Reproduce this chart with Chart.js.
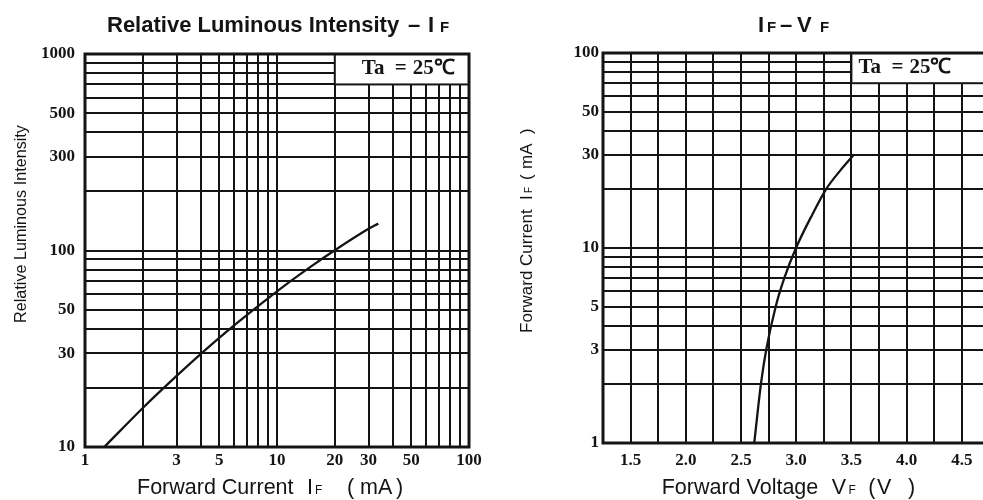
<!DOCTYPE html>
<html><head><meta charset="utf-8">
<script src="https://cdn.jsdelivr.net/npm/chart.js@4/dist/chart.umd.min.js"></script>
<style>
html,body{margin:0;padding:0;background:#fff;overflow:hidden;width:983px;height:500px;}
#c1{position:absolute;left:0;top:0;}
#c2{position:absolute;left:490px;top:0;}
</style></head><body>
<canvas id="c1" width="490" height="500"></canvas>
<canvas id="c2" width="560" height="500"></canvas>
<script>
// ---------- data ----------
const lumCurrent   = [1.26, 2, 3, 4, 6, 10, 15, 20, 30, 33.7];           // IF (mA)
const lumIntensity = [10, 15.8, 23.0, 29.7, 41.7, 62.0, 82.8, 100.3, 129, 137]; // relative
const ivCurrent = [1, 2, 3, 5, 7, 10, 15, 20, 25, 30];                          // IF (mA)
const ivVoltage = [2.62, 2.68, 2.728, 2.814, 2.892, 2.998, 3.15, 3.27, 3.40, 3.52]; // VF (V)
const lumYLabels = [10, 30, 50, 100, 300, 500, 1000];
const lumXLabels = [1, 3, 5, 10, 20, 30, 50, 100];
const ivYLabels  = [1, 3, 5, 10, 30, 50, 100];
const ivXLabels  = [1.5, 2.0, 2.5, 3.0, 3.5, 4.0, 4.5];
const ambientText = 'Ta = 25\u2103';

// ---------- styles ----------
const INK = '#141414';
const SANS = "'Liberation Sans', Arial, sans-serif";
const SERIF = "'Liberation Serif', 'Times New Roman', serif";
const tickFont = {family: SERIF, size: 17, weight: 'bold'};

function logGrid(min, max) {
  const out = [];
  for (let e = Math.floor(Math.log10(min)); e <= Math.ceil(Math.log10(max)); e++) {
    for (let m = 1; m < 10; m++) {
      const v = +(m * Math.pow(10, e)).toPrecision(6);
      if (v >= min - 1e-9 && v <= max + 1e-9) out.push(v);
    }
  }
  return out;
}
function linGrid(min, max, step) {
  const out = [];
  for (let v = min; v <= max + 1e-9; v += step) out.push(+v.toFixed(4));
  return out;
}
const labelIf = (list, fmt) => (v) => list.some(l => Math.abs(l - v) < 1e-6) ? fmt(v) : '';

function drawRich(ctx, t) {
  ctx.save();
  ctx.translate(t.x, t.y);
  if (t.rotate) ctx.rotate(t.rotate);
  ctx.textBaseline = 'alphabetic';
  ctx.textAlign = 'left';
  ctx.fillStyle = INK;
  for (const p of t.parts) {
    ctx.font = p.font;
    ctx.fillText(p.text, p.dx, 0);
  }
  ctx.restore();
}

const ambientOffsets = [0, 33, 51];

const framePlugin = {
  id: 'frame',
  afterDraw(chart, args, o) {
    const {ctx, chartArea: a, scales} = chart;
    ctx.save();
    const bx = scales.x.getPixelForValue(o.boxFromX);
    const by = scales.y.getPixelForValue(o.boxToY);
    ctx.fillStyle = '#fff';
    ctx.fillRect(bx, a.top, a.right - bx, by - a.top);
    ctx.strokeStyle = INK;
    ctx.lineWidth = 2;
    ctx.strokeRect(bx, a.top, a.right - bx, by - a.top);
    ctx.fillStyle = INK;
    ctx.font = "bold 21px " + SERIF;
    ctx.textBaseline = 'middle';
    ctx.textAlign = 'left';
    o.text.split(' ').forEach((w, i) => {
      ctx.fillText(w, bx + o.textOffset + ambientOffsets[i], (a.top + by) / 2 - 1);
    });
    ctx.lineWidth = 3;
    ctx.strokeRect(a.left, a.top, a.right - a.left, a.bottom - a.top);
    ctx.restore();
    for (const t of o.titles) drawRich(ctx, t);
  }
};

function axisCommon(extra) {
  return Object.assign({
    grid: {color: INK, lineWidth: 2, drawTicks: false},
    border: {display: false},
  }, extra);
}

const big = s => `${s}px ${SANS}`;
const bold = s => `bold ${s}px ${SANS}`;

// ---------- left chart ----------
new Chart(document.getElementById('c1'), {
  type: 'line',
  data: {datasets: [{
    data: lumCurrent.map((x, i) => ({x, y: lumIntensity[i]})),
    borderColor: INK, borderWidth: 2.3, pointRadius: 0,
    cubicInterpolationMode: 'monotone'
  }]},
  options: {
    responsive: false, animation: false,
    layout: {padding: {top: 54, right: 21, left: 0, bottom: 0}},
    plugins: {
      legend: {display: false}, tooltip: {enabled: false},
      frame: {
        boxFromX: 20, boxToY: 700, text: ambientText, textOffset: 27,
        titles: [
          {x: 107, y: 32, parts: [
            {text: 'Relative Luminous Intensity', font: bold(22), dx: 0},
            {text: '\u2013', font: bold(22), dx: 301},
            {text: 'I', font: bold(22), dx: 321},
            {text: 'F', font: bold(15), dx: 333}]},
          {x: 137, y: 494, parts: [
            {text: 'Forward Current', font: big(21.5), dx: 0},
            {text: 'I', font: big(21.5), dx: 170},
            {text: 'F', font: big(12), dx: 178},
            {text: '(', font: big(21.5), dx: 210},
            {text: 'mA', font: big(21.5), dx: 223},
            {text: ')', font: big(21.5), dx: 259}]},
          {x: 26, y: 323, rotate: -Math.PI / 2, parts: [
            {text: 'Relative Luminous Intensity', font: big(16.2), dx: 0}]}
        ]
      }
    },
    scales: {
      x: axisCommon({
        type: 'logarithmic', min: 1, max: 100,
        afterBuildTicks: s => { s.ticks = logGrid(1, 100).map(v => ({value: v})); },
        afterFit: s => { s.height = 53; },
        ticks: {autoSkip: false, maxRotation: 0, padding: 3, font: tickFont, color: INK,
                callback: labelIf(lumXLabels, v => String(v))}
      }),
      y: axisCommon({
        type: 'logarithmic', min: 10, max: 1000,
        afterBuildTicks: s => { s.ticks = logGrid(10, 1000).map(v => ({value: v})); },
        afterFit: s => { s.width = 85; },
        ticks: {autoSkip: false, padding: 10, font: tickFont, color: INK,
                callback: labelIf(lumYLabels, v => String(v))}
      })
    }
  },
  plugins: [framePlugin]
});

// ---------- right chart ----------
new Chart(document.getElementById('c2'), {
  type: 'line',
  data: {datasets: [{
    data: ivVoltage.map((x, i) => ({x, y: ivCurrent[i]})),
    borderColor: INK, borderWidth: 2.3, pointRadius: 0,
    cubicInterpolationMode: 'monotone'
  }]},
  options: {
    responsive: false, animation: false,
    layout: {padding: {top: 53, right: 33, left: 0, bottom: 0}},
    plugins: {
      legend: {display: false}, tooltip: {enabled: false},
      frame: {
        boxFromX: 3.5, boxToY: 70, text: ambientText, textOffset: 7,
        titles: [
          {x: 268, y: 32, parts: [
            {text: 'I', font: bold(22), dx: 0},
            {text: 'F', font: bold(15), dx: 9},
            {text: '\u2013', font: bold(22), dx: 22},
            {text: 'V', font: bold(22), dx: 39},
            {text: 'F', font: bold(15), dx: 62}]},
          {x: 171.7, y: 494, parts: [
            {text: 'Forward Voltage', font: big(21.5), dx: 0},
            {text: 'V', font: big(21.5), dx: 170},
            {text: 'F', font: big(12), dx: 186.7},
            {text: '(', font: big(21.5), dx: 206.6},
            {text: 'V', font: big(21.5), dx: 215.3},
            {text: ')', font: big(21.5), dx: 246.3}]},
          {x: 42, y: 333, rotate: -Math.PI / 2, parts: [
            {text: 'Forward Current', font: big(17), dx: 0},
            {text: 'I', font: big(17), dx: 133},
            {text: 'F', font: big(10), dx: 140},
            {text: '(', font: big(17), dx: 153},
            {text: 'mA', font: big(17), dx: 164},
            {text: ')', font: big(17), dx: 199}]}
        ]
      }
    },
    scales: {
      x: axisCommon({
        type: 'linear', min: 1.25, max: 5.0,
        afterBuildTicks: s => { s.ticks = linGrid(1.25, 5.0, 0.25).map(v => ({value: v})); },
        afterFit: s => { s.height = 57; },
        ticks: {autoSkip: false, maxRotation: 0, padding: 7, font: tickFont, color: INK,
                callback: labelIf(ivXLabels, v => v.toFixed(1))}
      }),
      y: axisCommon({
        type: 'logarithmic', min: 1, max: 100,
        afterBuildTicks: s => { s.ticks = logGrid(1, 100).map(v => ({value: v})); },
        afterFit: s => { s.width = 113; },
        ticks: {autoSkip: false, padding: 4, font: tickFont, color: INK,
                callback: labelIf(ivYLabels, v => String(v))}
      })
    }
  },
  plugins: [framePlugin]
});
</script>
</body></html>
